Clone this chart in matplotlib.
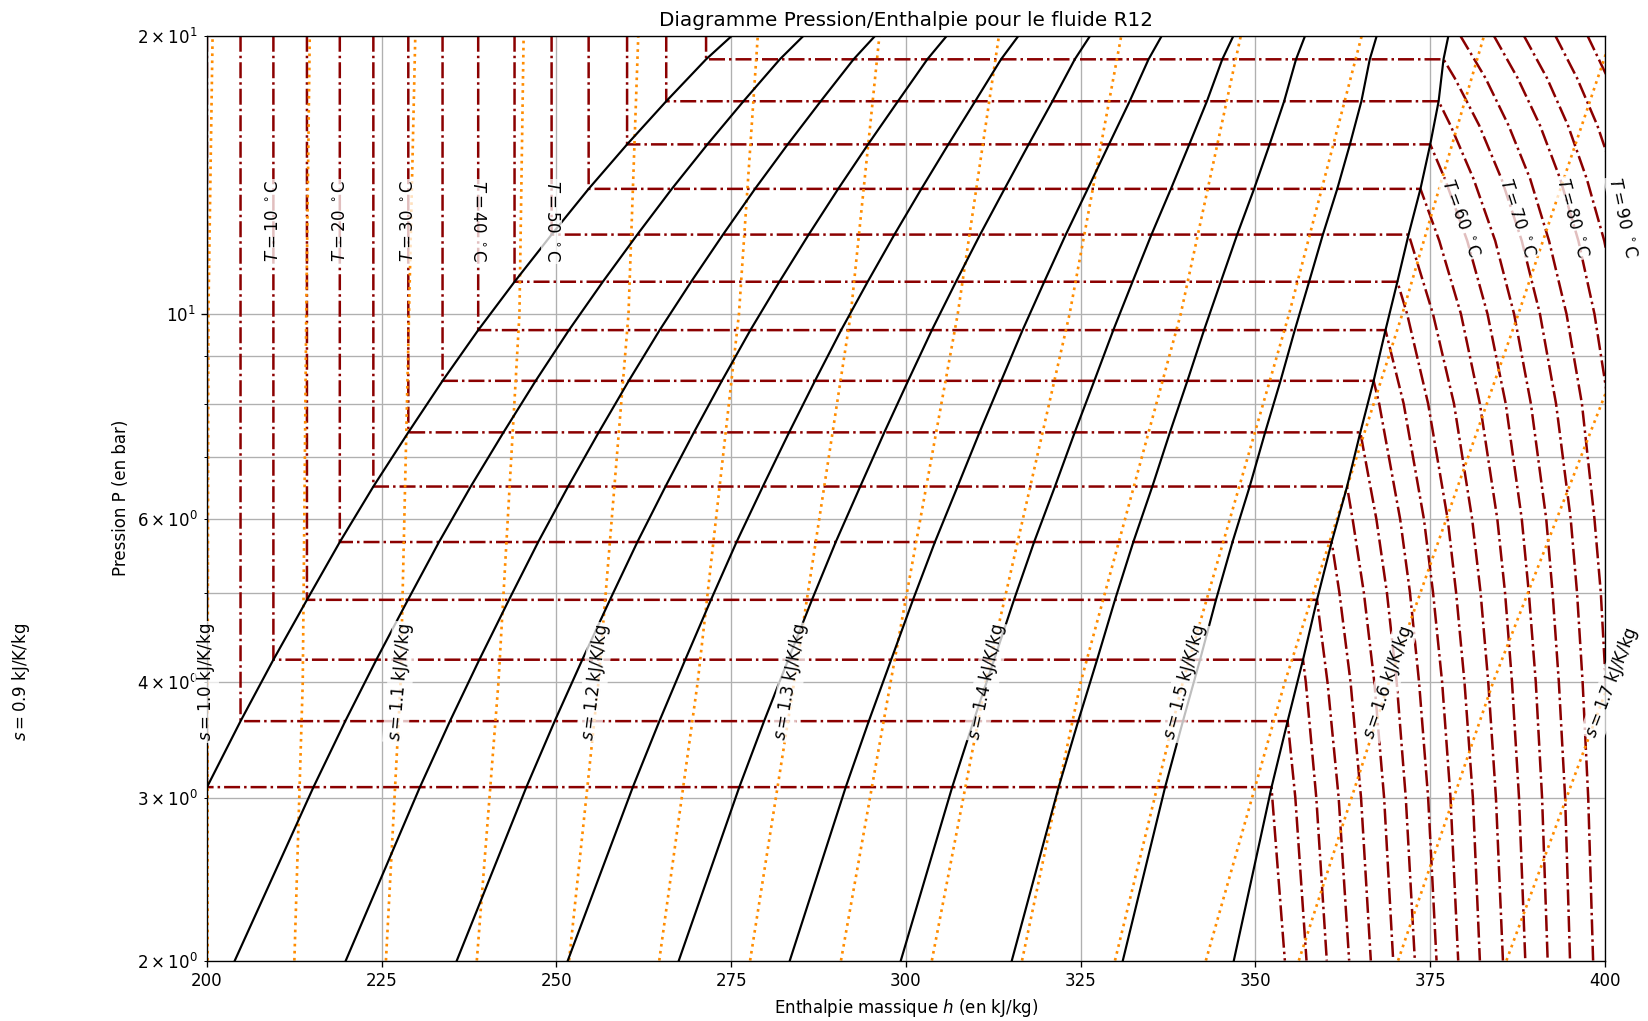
import matplotlib
matplotlib.use('Agg')
import matplotlib.pyplot as plt
import numpy as np

nan = np.nan

# saturation dome of R12 (P in bar, h in kJ/kg)
temps_sat = [0, 5, 10, 15, 20, 25, 30, 35, 40, 45, 50, 55, 60, 65, 70]
p_sat = [3.08, 3.63, 4.23, 4.91, 5.67, 6.51, 7.45, 8.47, 9.61, 10.84,
         12.19, 13.66, 15.26, 16.99, 18.86]
h_liq = [200.0, 204.8, 209.5, 214.3, 219.0, 223.8, 228.8, 233.7, 238.8,
         244.0, 249.3, 254.6, 260.1, 265.7, 271.4]
h_vap = [352.3, 354.6, 356.8, 358.8, 360.9, 363.1, 365.0, 366.9, 368.6,
         370.3, 371.9, 373.6, 375.0, 376.2, 376.9]
p_dome_ends = [2.0, 20.0]
h_liq_ends = [188.1, 275.1]
h_vap_ends = [346.9, 377.6]
qualities = [0.0, 0.1, 0.2, 0.3, 0.4, 0.5, 0.6, 0.7, 0.8, 0.9, 1.0]

# isotherms in the vapour region
temps_vap = [0, 5, 10, 15, 20, 25, 30, 35, 40, 45, 50, 55, 60, 65, 70,
             75, 80, 85, 90, 95]
p_grid = [2, 3, 4, 5, 6, 8, 10, 12, 14, 16, 18, 20]
h_vapor = [
    [354.2, 352.4, nan, nan, nan, nan, nan, nan, nan, nan, nan, nan],
    [357.3, 355.7, nan, nan, nan, nan, nan, nan, nan, nan, nan, nan],
    [360.2, 358.7, 357.2, nan, nan, nan, nan, nan, nan, nan, nan, nan],
    [363.4, 361.9, 360.3, nan, nan, nan, nan, nan, nan, nan, nan, nan],
    [366.5, 365.1, 363.6, 362.0, nan, nan, nan, nan, nan, nan, nan, nan],
    [369.7, 368.4, 367.0, 365.5, 363.9, nan, nan, nan, nan, nan, nan, nan],
    [372.8, 371.5, 370.2, 368.8, 367.3, nan, nan, nan, nan, nan, nan, nan],
    [375.9, 374.7, 373.4, 372.1, 370.7, 367.7, nan, nan, nan, nan, nan, nan],
    [379.0, 377.9, 376.7, 375.4, 374.1, 371.2, nan, nan, nan, nan, nan, nan],
    [382.1, 381.1, 379.9, 378.7, 377.5, 374.7, 371.7, nan, nan, nan, nan, nan],
    [385.4, 384.4, 383.3, 382.2, 381.0, 378.4, 375.4, 372.2, nan, nan, nan, nan],
    [388.6, 387.7, 386.7, 385.7, 384.6, 382.1, 379.4, 376.3, nan, nan, nan, nan],
    [391.8, 391.0, 390.1, 389.1, 388.1, 385.8, 383.2, 380.3, 377.1, nan, nan, nan],
    [395.0, 394.3, 393.4, 392.5, 391.6, 389.4, 387.0, 384.3, 381.2, 377.9, nan, nan],
    [398.3, 397.6, 396.8, 396.0, 395.1, 393.0, 390.7, 388.1, 385.2, 382.0, 378.5, nan],
    [401.4, 400.8, 400.1, 399.4, 398.5, 396.7, 394.5, 392.0, 389.3, 386.2, 382.9, 379.3],
    [404.7, 404.2, 403.6, 402.9, 402.2, 400.5, 398.5, 396.2, 393.6, 390.7, 387.5, 384.1],
    [407.7, 407.2, 406.7, 406.1, 405.4, 403.9, 402.0, 399.9, 397.4, 394.7, 391.7, 388.4],
    [410.8, 410.4, 409.9, 409.4, 408.8, 407.4, 405.7, 403.7, 401.5, 398.9, 396.0, 392.9],
    [413.9, 413.6, 413.2, 412.8, 412.3, 411.0, 409.5, 407.7, 405.6, 403.2, 400.4, 397.5],
]

# isentropes (kJ/K/kg)
entropies = [1.0, 1.05, 1.1, 1.15, 1.2, 1.25, 1.3, 1.35, 1.4, 1.45, 1.5,
             1.55, 1.6, 1.65, 1.7]
p_isen = [2, 4, 10, 20]
h_isen = [
    [200.1, 200.1, 200.2, 200.8],
    [212.5, 213.7, 214.2, 214.7],
    [225.6, 227.7, 228.9, 229.8],
    [238.6, 241.7, 244.7, 245.3],
    [251.8, 256.0, 260.3, 261.7],
    [264.7, 270.2, 276.1, 278.8],
    [277.7, 284.0, 292.1, 296.2],
    [290.7, 297.8, 307.4, 313.3],
    [303.7, 311.4, 323.4, 330.8],
    [316.6, 325.0, 339.3, 347.9],
    [329.9, 339.6, 354.8, 365.2],
    [342.9, 354.2, 371.0, 382.7],
    [356.2, 369.1, 387.6, 401.0],
    [370.4, 384.0, 404.5, 419.0],
    [385.9, 400.6, 422.0, 437.0],
]

# labels
s_labels = [0.9, 1.0, 1.1, 1.2, 1.3, 1.4, 1.5, 1.6, 1.7]
s_label_h = [173.4, 199.9, 227.6, 255.5, 283.5, 311.5, 339.8, 368.9, 401.0]
s_label_p = [4.0, 4.0, 4.0, 4.0, 4.0, 4.0, 4.0, 4.0, 4.0]
s_label_rot = [90, 90, 85, 83, 80, 78, 75, 71, 69]

t_labels = [10, 20, 30, 40, 50, 60, 70, 80, 90]
t_label_h = [209.5, 219.0, 228.8, 238.8, 249.3, 379.4, 387.5, 395.4, 402.5]
t_label_p = [12.6, 12.6, 12.6, 12.6, 12.6, 12.7, 12.7, 12.7, 12.7]
t_label_rot = [90, 90, 90, 270, 270, -70, -72, -75, -78]


fig, ax = plt.subplots(figsize=(16.48 / 1.2, 10.21 / 1.2), dpi=120)
fig.subplots_adjust(left=0.1256, right=0.9739, bottom=0.0592, top=0.965)

red = '#8b0000'
lbox = dict(facecolor='white', edgecolor='none', alpha=0.75, pad=1)

# isotherms: liquid (vertical), two-phase (horizontal), vapour (curve)
for i, t in enumerate(temps_vap):
    hs, ps = [], []
    if t in temps_sat:
        j = temps_sat.index(t)
        hs += [h_liq[j], h_liq[j], h_vap[j]]
        ps += [20.0, p_sat[j], p_sat[j]]
    for k in range(len(p_grid) - 1, -1, -1):
        if not np.isnan(h_vapor[i][k]):
            hs.append(h_vapor[i][k])
            ps.append(p_grid[k])
    ax.plot(hs, ps, color=red, linestyle='-.', lw=1.5)

# isentropes
for row in h_isen:
    ax.plot(row, p_isen, color='darkorange', linestyle=':', lw=1.6)

# quality lines
dome_p = [p_dome_ends[0]] + p_sat + [p_dome_ends[1]]
dome_l = [h_liq_ends[0]] + h_liq + [h_liq_ends[1]]
dome_v = [h_vap_ends[0]] + h_vap + [h_vap_ends[1]]
for q in qualities:
    hq = [l + q * (v - l) for l, v in zip(dome_l, dome_v)]
    ax.plot(hq, dome_p, color='black', lw=1.3)

for s, h, p, r in zip(s_labels, s_label_h, s_label_p, s_label_rot):
    ax.text(h, p, f'$s = {s:.1f}$ kJ/K/kg', rotation=r, rotation_mode='anchor',
            ha='center', va='center', fontsize=10, bbox=lbox)

for t, h, p, r in zip(t_labels, t_label_h, t_label_p, t_label_rot):
    ax.text(h, p, f'$T = {t}$ $^\\circ$C', rotation=r, rotation_mode='anchor',
            ha='center', va='center', fontsize=10, bbox=lbox)

ax.set_yscale('log')
ax.set_xlim(200, 400)
ax.set_ylim(2, 20)
ax.grid(True, which='both')
ax.set_title('Diagramme Pression/Enthalpie pour le fluide R12')
ax.set_xlabel('Enthalpie massique $h$ (en kJ/kg)')
ax.set_ylabel('Pression P (en bar)')

plt.savefig('out.png', dpi=120)
